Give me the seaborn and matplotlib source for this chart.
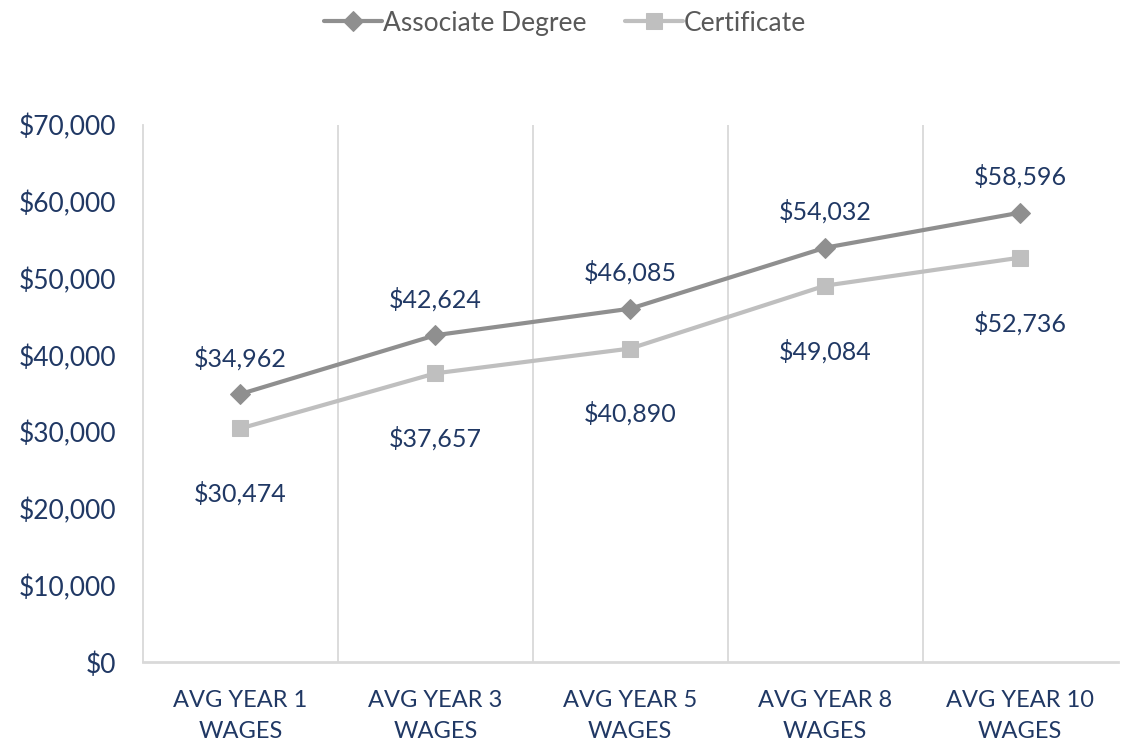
import matplotlib
matplotlib.use("Agg")
import matplotlib.pyplot as plt
import seaborn as sns
import pandas as pd

categories = ["AVG YEAR 1\nWAGES", "AVG YEAR 3\nWAGES", "AVG YEAR 5\nWAGES",
              "AVG YEAR 8\nWAGES", "AVG YEAR 10\nWAGES"]
associate = [34962, 42624, 46085, 54032, 58596]
certificate = [30474, 37657, 40890, 49084, 52736]
yticks = [0, 10000, 20000, 30000, 40000, 50000, 60000, 70000]

sns.set_theme(style="white")
plt.rcParams['font.family'] = ['Lato', 'DejaVu Sans']

navy = "#203864"
c_assoc = "#8f8f8f"
c_cert = "#bfbfbf"

fig = plt.figure(figsize=(11.3, 7.45), dpi=100)
ax = fig.add_axes([0.1265, 0.111, 0.8625, 0.721])

df_a = pd.DataFrame({"cat": categories, "val": associate})
df_c = pd.DataFrame({"cat": categories, "val": certificate})

sns.lineplot(data=df_a, x="cat", y="val", ax=ax, color=c_assoc, linewidth=3,
             marker="D", markersize=10, markeredgecolor=c_assoc, label="Associate Degree", sort=False)
sns.lineplot(data=df_c, x="cat", y="val", ax=ax, color=c_cert, linewidth=3,
             marker="s", markersize=11, markeredgecolor=c_cert, label="Certificate", sort=False)

for i, v in enumerate(associate):
    ax.annotate(f"${v:,}", (i, v), xytext=(0, 26), textcoords="offset points",
                ha="center", va="center", fontsize=18, color=navy)
for i, v in enumerate(certificate):
    ax.annotate(f"${v:,}", (i, v), xytext=(0, -47), textcoords="offset points",
                ha="center", va="center", fontsize=18, color=navy)

ax.set_xlim(-0.5, 4.5)
ax.set_ylim(0, 70000)
ax.set_yticks(yticks)
ax.set_yticklabels([f"${t:,}" for t in yticks], fontsize=19, color=navy)
ax.set_xticks(range(len(categories)))
ax.set_xticklabels(categories, fontsize=17, color=navy, linespacing=1.6)
ax.tick_params(axis="x", length=0, pad=20)
ax.tick_params(axis="y", length=0, pad=19)
ax.set_xlabel("")
ax.set_ylabel("")

for b in [0.5, 1.5, 2.5, 3.5]:
    ax.axvline(b, color="#d9d9d9", linewidth=1.3, zorder=0)

for s in ["top", "right"]:
    ax.spines[s].set_visible(False)
ax.spines["left"].set_color("#d9d9d9")
ax.spines["left"].set_linewidth(1.3)
ax.spines["bottom"].set_color("#d9d9d9")
ax.spines["bottom"].set_linewidth(2)

leg = ax.legend(loc="center", bbox_to_anchor=(0.433, 1.19), ncol=2, frameon=False,
                fontsize=19, handlelength=2.2, numpoints=1, columnspacing=1.45, handletextpad=0.05)
for t in leg.get_texts():
    t.set_color("#595959")

fig.savefig("out.png", dpi=100)
